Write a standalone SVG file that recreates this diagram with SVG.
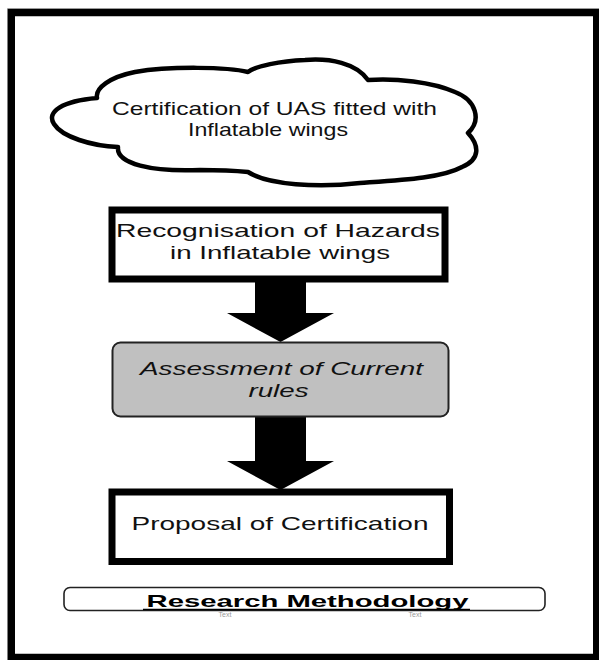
<svg xmlns="http://www.w3.org/2000/svg" width="599" height="660" viewBox="0 0 599 660">
<style>
  .lbl { font-family: "Liberation Sans", Arial, sans-serif; font-size: 19px; fill: #111; text-anchor: middle; }
  .it { font-style: italic; }
  .title { font-family: "Liberation Sans", Arial, sans-serif; font-size: 17px; font-weight: bold; fill: #000; text-anchor: middle; }
  .tiny { font-family: "Liberation Sans", Arial, sans-serif; font-size: 7px; fill: #9a9a9a; text-anchor: middle; }
  .box { fill: #fff; stroke: #000; stroke-width: 7; }
  .arrow { fill: #000; }
</style>
<rect x="0" y="0" width="599" height="660" fill="#fff"/>
<line x1="7" y1="8.5" x2="599" y2="8.5" stroke="#cfcfcf" stroke-width="1"/>
<rect id="frame" x="11.25" y="12.5" width="585.5" height="645" fill="none" stroke="#000" stroke-width="7.5"/>

<g id="cloud">
  <path d="M 97,98 C 62,101 46,112 54,124 C 62,137 92,146 118,147 C 116,164 152,172 200,170 C 224,170 238,171 248,172 C 268,185 318,188 360,183 C 402,180 442,178 462,167 C 481,159 479,145 468,133 C 482,120 476,100 455,92 C 432,82 396,78 368,80 C 356,63 330,58 305,60 C 280,61 256,66 248,72 C 228,67 170,66 135,72 C 110,77 95,88 97,98 Z" fill="#fff" stroke="#000" stroke-width="4.5" stroke-linejoin="round"/>
  <text class="lbl" x="274.5" y="115" textLength="325" lengthAdjust="spacingAndGlyphs">Certification of UAS fitted with</text>
  <text class="lbl" x="268" y="135.5" textLength="160" lengthAdjust="spacingAndGlyphs">Inflatable wings</text>
</g>

<g id="connectors">
  <polygon class="arrow" points="255,282 306,282 306,313 334,313 280.5,342 227,313 255,313"/>
  <polygon class="arrow" points="255,416 306,416 306,461 334,461 280.5,490 227,461 255,461"/>
</g>

<g id="hazards">
  <rect class="box" x="112" y="210" width="333" height="69"/>
  <text class="lbl" x="278" y="236.5" textLength="324" lengthAdjust="spacingAndGlyphs">Recognisation of Hazards</text>
  <text class="lbl" x="280" y="258.5" textLength="220" lengthAdjust="spacingAndGlyphs">in Inflatable wings</text>
</g>

<g id="assessment">
  <rect x="112.5" y="342.5" width="336" height="74" rx="8" ry="8" fill="#c0c0c0" stroke="#222" stroke-width="2"/>
  <text class="lbl it" x="281.5" y="374.5" textLength="283" lengthAdjust="spacingAndGlyphs">Assessment of Current</text>
  <text class="lbl it" x="278.5" y="396.5" textLength="60" lengthAdjust="spacingAndGlyphs">rules</text>
</g>

<g id="proposal">
  <rect class="box" x="112" y="492" width="337.5" height="69.5"/>
  <text class="lbl" x="280" y="530" textLength="297" lengthAdjust="spacingAndGlyphs">Proposal of Certification</text>
</g>

<g id="methodology">
  <rect x="64" y="587.5" width="481" height="23" rx="6" ry="6" fill="#fff" stroke="#222" stroke-width="1.6"/>
  <text class="tiny" x="225" y="617">Text</text>
  <text class="tiny" x="415" y="617">Text</text>
  <line x1="143" y1="609.5" x2="470" y2="609.5" stroke="#000" stroke-width="1.6"/>
  <text class="title" x="307.5" y="606.5" textLength="322" lengthAdjust="spacingAndGlyphs">Research Methodology</text>
</g>
</svg>
